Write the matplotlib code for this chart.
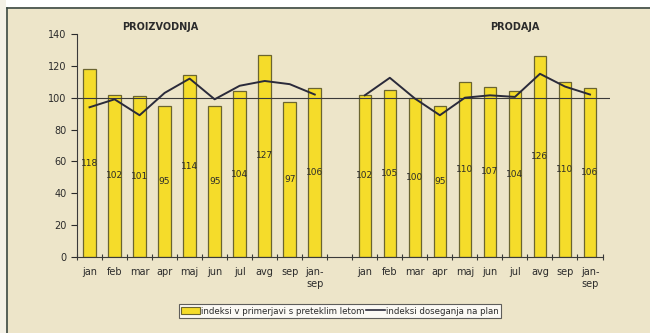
import matplotlib.pyplot as plt
from matplotlib.patches import Patch, Rectangle
from matplotlib.lines import Line2D
import numpy as np

# ###############
# Data: indices by month, production and sales
months = ['jan', 'feb', 'mar', 'apr', 'maj', 'jun', 'jul', 'avg', 'sep', 'jan-\nsep']

proizvodnja_idx = [118, 102, 101, 95, 114, 95, 104, 127, 97, 106]     # vs previous year
proizvodnja_plan = [94, 99, 89, 103, 112, 99, 107.5, 110.5, 108.5, 102]  # plan achievement

prodaja_idx = [102, 105, 100, 95, 110, 107, 104, 126, 110, 106]
prodaja_plan = [101.5, 112.5, 99.5, 89, 100, 101.5, 100.5, 115, 107, 102]

bg = '#ede5c9'
bar_col = '#f5dc2a'
edge_col = '#6b6530'
txt = '#2b2b2b'

fig = plt.figure(figsize=[6.5, 3.33], dpi=100, facecolor=bg)

# white margin outside the panel frame (top and left)
fig.add_artist(Rectangle((0, 1 - 7 / 333), 1, 7 / 333, transform=fig.transFigure,
                         facecolor='white', edgecolor='none', zorder=0))
fig.add_artist(Rectangle((0, 0), 6 / 650, 1, transform=fig.transFigure,
                         facecolor='#f4f1e6', edgecolor='none', zorder=0))
fig.add_artist(Line2D([7 / 650, 1], [1 - 8 / 333] * 2, color='#3c4a44', lw=1.2))
fig.add_artist(Line2D([7 / 650] * 2, [0, 1 - 8 / 333], color='#3c4a44', lw=1.2))

ax = fig.add_axes([0.1185, 0.228, 0.82, 0.67])
ax.set_facecolor(bg)

n = len(months)
x_left = np.arange(n)
x_right = np.arange(n) + n + 1   # one empty slot between the two groups

for xs, vals, plan in [(x_left, proizvodnja_idx, proizvodnja_plan),
                       (x_right, prodaja_idx, prodaja_plan)]:
    ax.bar(xs, vals, width=0.5, color=bar_col, edgecolor=edge_col, lw=0.9, zorder=2)
    ax.plot(xs, plan, color='#2a2a3a', lw=1.4, zorder=4)
    for xx, v in zip(xs, vals):
        ax.text(xx, v / 2, str(v), ha='center', va='center', fontsize=6.5,
                color=txt, zorder=5)

ax.axhline(100, color='#3a3a3a', lw=0.8, zorder=3)

ax.set_ylim(0, 140)
ax.set_xlim(-0.5, 2 * n + 0.8)
ax.set_yticks(range(0, 141, 20))
ax.tick_params(axis='y', labelsize=7, colors=txt, length=4, width=0.8)

# tick marks between categories, labels at category centres
ax.set_xticks(np.arange(-0.5, 2 * n + 1, 1.0))
ax.set_xticklabels([])
ax.set_xticks(np.concatenate([x_left, x_right]), minor=True)
ax.set_xticklabels(months + months, minor=True, fontsize=7, color=txt,
                   linespacing=1.3, va='top')
ax.tick_params(axis='x', which='major', direction='inout', length=5, width=0.8,
               colors='#3a3a3a')
ax.tick_params(axis='x', which='minor', length=0, pad=7)

for s in ['top', 'right']:
    ax.spines[s].set_visible(False)
ax.spines['left'].set_color('#3a3a3a')
ax.spines['bottom'].set_color('#3a3a3a')
ax.spines['bottom'].set_bounds(-0.5, 2 * n + 0.5)

fig.text(160 / 650, 1 - 27 / 333, 'PROIZVODNJA', ha='center', va='center',
         fontsize=7, fontweight='bold', color=txt)
fig.text(515 / 650, 1 - 27 / 333, 'PRODAJA', ha='center', va='center',
         fontsize=7, fontweight='bold', color=txt)

handles = [Patch(facecolor=bar_col, edgecolor=edge_col, lw=0.8),
           Line2D([], [], color='#2a2a3a', lw=1.2)]
leg = fig.legend(handles, ['indeksi v primerjavi s preteklim letom',
                           'indeksi doseganja na plan'],
                 loc='center', bbox_to_anchor=(340 / 650, 1 - 311 / 333), ncol=2,
                 fontsize=6.2, frameon=True, fancybox=False, handlelength=2.2,
                 handletextpad=0.2, columnspacing=0.1, borderpad=0.25,
                 labelcolor=txt)
leg.get_frame().set_edgecolor('#3a3a3a')
leg.get_frame().set_facecolor('white')
leg.get_frame().set_linewidth(0.8)

fig.savefig('out.png', dpi=100, facecolor=bg)
